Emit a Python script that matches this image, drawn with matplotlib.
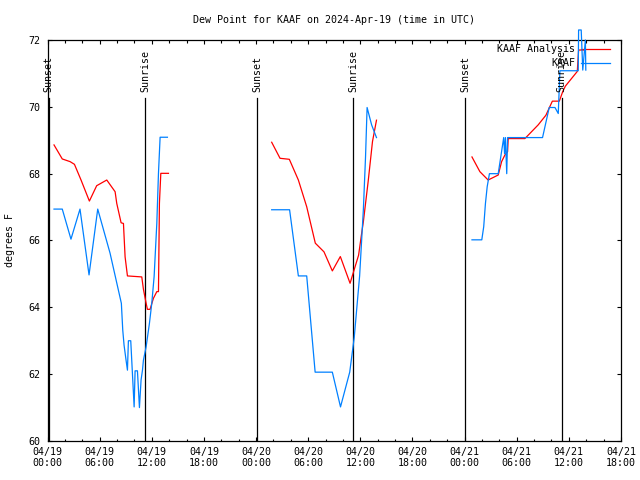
import numpy as np
import matplotlib
matplotlib.use("Agg")
import matplotlib.pyplot as plt
from matplotlib.ticker import MultipleLocator, FixedLocator

# hours since 2024-04-19 00:00 UTC
nan = float("nan")
anal_hours = [0.75, 1.7, 2.6, 3.1, 3.86, 4.82, 5.66, 6.82, 7.78, 7.97, 8.47, 8.74, 8.93, 9.2, 10.85,
              11.04, 11.35, 11.5, 11.8, 12.19, 12.58, 12.77, 12.88, 13.04, 13.92,
              nan,
              25.8, 26.76, 27.83, 28.87, 29.83, 30.82, 31.82, 32.78, 33.7, 34.82, 35.8, 36.15, 36.35,
              36.9, 37.4, 37.86,
              nan,
              48.85, 49.76, 50.71, 51.87, 52.26, 52.64, 52.95, 53.02, 54.94, 56.47, 57.36, 58.1,
              58.9, 59.3, 59.6, 60.97, 61.12, 61.85]
anal_vals = [68.86, 68.44, 68.36, 68.28, 67.81, 67.18, 67.64, 67.81, 67.46, 67.11, 66.53, 66.51, 65.51, 64.94, 64.91,
             64.54, 64.12, 63.94, 63.94, 64.27, 64.47, 64.47, 67.11, 68.01, 68.01,
             nan,
             68.94, 68.46, 68.43, 67.81, 67.01, 65.92, 65.66, 65.09, 65.52, 64.72, 65.56, 66.21, 66.56,
             67.76, 68.96, 69.6,
             nan,
             68.5, 68.06, 67.81, 67.96, 68.36, 68.56, 68.66, 69.05, 69.05, 69.46, 69.75, 70.17,
             70.17, 70.46, 70.62, 71.06, 71.7, 71.7]

obs_hours = [0.75, 1.7, 2.7, 3.74, 4.78, 5.78, 7.2, 8.5, 8.66, 8.81, 9.04, 9.2, 9.31, 9.58, 9.97, 10.08,
             10.35, 10.58, 10.77, 10.93, 11.04, 11.35, 11.73, 12.0, 12.27, 12.58, 12.77, 12.96, 13.8,
             nan,
             25.8, 27.86, 28.87, 29.83, 30.8, 32.78, 33.72, 34.78, 35.3, 35.92, 36.35, 36.6, 36.78, 37.3, 37.86,
             nan,
             48.85, 49.98, 50.2, 50.4, 50.6, 50.86, 51.87, 52.5, 52.6, 52.7, 52.85, 52.95, 56.97, 57.74,
             58.4, 58.78, 58.97, 61.08, 61.12, 61.42, 61.6, 61.9, 61.95]
obs_vals = [66.94, 66.94, 66.04, 66.94, 64.97, 66.94, 65.62, 64.12, 63.32, 62.87, 62.42, 62.12, 63.0, 63.0, 61.02, 62.1,
            62.1, 61.0, 61.83, 62.12, 62.42, 62.82, 63.52, 64.12, 64.92, 66.51, 68.01, 69.09, 69.09,
            nan,
            66.92, 66.92, 64.94, 64.94, 62.06, 62.06, 61.02, 62.06, 63.1, 64.94, 66.92, 68.5, 69.98, 69.46, 69.08,
            nan,
            66.02, 66.02, 66.41, 67.11, 67.61, 68.0, 68.0, 69.08, 68.6, 69.08, 68.0, 69.08, 69.08, 69.98,
            69.98, 69.8, 71.08, 71.08, 72.3, 72.3, 71.1, 72.0, 71.1]

sunset_hours = [0.14, 24.14, 48.1]
sunrise_hours = [11.23, 35.2, 59.16]

xtick_hours = [0, 6, 12, 18, 24, 30, 36, 42, 48, 54, 60, 66]
xtick_labels = ["04/19\n00:00", "04/19\n06:00", "04/19\n12:00", "04/19\n18:00",
                "04/20\n00:00", "04/20\n06:00", "04/20\n12:00", "04/20\n18:00",
                "04/21\n00:00", "04/21\n06:00", "04/21\n12:00", "04/21\n18:00"]

FONT = "DejaVu Sans Mono"
FS = 7.2
plt.rcParams["font.family"] = [FONT, "DejaVu Sans"]
plt.rcParams["font.size"] = FS

fig = plt.figure(figsize=(6.4, 4.8), dpi=100)
ax = fig.add_axes([47.5 / 640, 1 - 441 / 480, (621 - 47.5) / 640, (441 - 40) / 480])

RED = "#ff0000"
BLUE = "#0080ff"

ax.plot(anal_hours, anal_vals, color=RED, lw=0.9, zorder=3)
ax.plot(obs_hours, obs_vals, color=BLUE, lw=0.9, zorder=3, clip_on=False)

line_top = 70.26
label_base = 70.44
for h in sunset_hours:
    ax.plot([h, h], [60, line_top], color="black", lw=0.9, zorder=2)
    ax.text(h, label_base, "Sunset", rotation=90, ha="center", va="bottom", fontsize=FS)
for h in sunrise_hours:
    ax.plot([h, h], [60, line_top], color="black", lw=0.9, zorder=2)
    ax.text(h, label_base, "Sunrise", rotation=90, ha="center", va="bottom", fontsize=FS)

ax.set_xlim(0, 66)
ax.set_ylim(60, 72)
ax.xaxis.set_major_locator(FixedLocator(xtick_hours))
ax.set_xticklabels(xtick_labels)
ax.xaxis.set_minor_locator(MultipleLocator(2))
ax.yaxis.set_major_locator(MultipleLocator(2))
ax.tick_params(axis="both", which="both", direction="in", top=True, right=True,
               width=0.8, colors="black", labelsize=FS)
ax.tick_params(axis="both", which="major", length=3.2)
ax.tick_params(axis="both", which="minor", length=1.8)
ax.tick_params(axis="y", pad=5)
ax.tick_params(axis="x", pad=4)
for sp in ax.spines.values():
    sp.set_linewidth(0.9)

# key
ax.text(0.9198, 0.9776, "KAAF Analysis", transform=ax.transAxes, ha="right", va="center", fontsize=FS)
ax.plot([0.93, 0.981], [0.9776, 0.9776], transform=ax.transAxes, color=RED, lw=0.9, clip_on=False)
ax.text(0.9198, 0.9426, "KAAF", transform=ax.transAxes, ha="right", va="center", fontsize=FS)
ax.plot([0.93, 0.981], [0.9426, 0.9426], transform=ax.transAxes, color=BLUE, lw=0.9, clip_on=False)

fig.text(334 / 640, 1 - 20 / 480, "Dew Point for KAAF on 2024-Apr-19 (time in UTC)",
         ha="center", va="center", fontsize=FS)
fig.text(10 / 640, 1 - 240 / 480, "degrees F", rotation=90, ha="center", va="center", fontsize=FS)

fig.savefig("out.png", dpi=100)
